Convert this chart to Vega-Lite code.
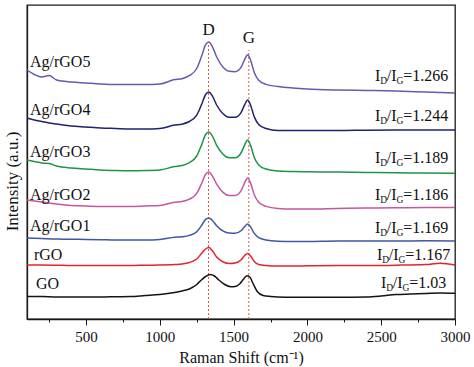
{
  "$schema": "https://vega.github.io/schema/vega-lite/v6.json",
  "width": 428,
  "height": 314,
  "autosize": {"type": "none"},
  "padding": {"left": 27, "top": 5, "right": 19, "bottom": 48},
  "background": "white",
  "config": {
    "font": "Liberation Serif",
    "view": {"stroke": "#1a1a1a", "strokeWidth": 1.3},
    "text": {"font": "Liberation Serif", "color": "#111111"}
  },
  "datasets": {
    "spectra": [
      {"s":"Ag/rGO5","x":100,"y":249},{"s":"Ag/rGO5","x":150,"y":244.5},{"s":"Ag/rGO5","x":200,"y":242},{"s":"Ag/rGO5","x":250,"y":243.5},{"s":"Ag/rGO5","x":300,"y":239},{"s":"Ag/rGO5","x":400,"y":237},{"s":"Ag/rGO5","x":500,"y":236},{"s":"Ag/rGO5","x":600,"y":235},{"s":"Ag/rGO5","x":700,"y":234.5},{"s":"Ag/rGO5","x":800,"y":234.5},{"s":"Ag/rGO5","x":900,"y":234.5},{"s":"Ag/rGO5","x":1000,"y":235},{"s":"Ag/rGO5","x":1100,"y":239.4},{"s":"Ag/rGO5","x":1150,"y":240.3},{"s":"Ag/rGO5","x":1200,"y":243.3},{"s":"Ag/rGO5","x":1250,"y":250.5},{"s":"Ag/rGO5","x":1285,"y":263.7},{"s":"Ag/rGO5","x":1310,"y":274.3},{"s":"Ag/rGO5","x":1332,"y":277},{"s":"Ag/rGO5","x":1355,"y":272.7},{"s":"Ag/rGO5","x":1385,"y":262},{"s":"Ag/rGO5","x":1430,"y":251.6},{"s":"Ag/rGO5","x":1470,"y":247.7},{"s":"Ag/rGO5","x":1510,"y":247.3},{"s":"Ag/rGO5","x":1550,"y":251.6},{"s":"Ag/rGO5","x":1575,"y":259.7},{"s":"Ag/rGO5","x":1595,"y":264.2},{"s":"Ag/rGO5","x":1615,"y":258.8},{"s":"Ag/rGO5","x":1640,"y":246.6},{"s":"Ag/rGO5","x":1670,"y":238.8},{"s":"Ag/rGO5","x":1720,"y":234.6},{"s":"Ag/rGO5","x":1800,"y":232.5},{"s":"Ag/rGO5","x":1900,"y":231},{"s":"Ag/rGO5","x":2000,"y":230},{"s":"Ag/rGO5","x":2200,"y":229},{"s":"Ag/rGO5","x":2400,"y":228.5},{"s":"Ag/rGO5","x":2600,"y":228},{"s":"Ag/rGO5","x":2800,"y":227},{"s":"Ag/rGO5","x":3000,"y":226},

      {"s":"Ag/rGO4","x":100,"y":201},{"s":"Ag/rGO4","x":150,"y":199},{"s":"Ag/rGO4","x":200,"y":197.5},{"s":"Ag/rGO4","x":250,"y":196},{"s":"Ag/rGO4","x":300,"y":195},{"s":"Ag/rGO4","x":400,"y":193},{"s":"Ag/rGO4","x":500,"y":192},{"s":"Ag/rGO4","x":600,"y":191},{"s":"Ag/rGO4","x":700,"y":190.5},{"s":"Ag/rGO4","x":800,"y":190},{"s":"Ag/rGO4","x":900,"y":190},{"s":"Ag/rGO4","x":1000,"y":190.5},{"s":"Ag/rGO4","x":1100,"y":193.9},{"s":"Ag/rGO4","x":1150,"y":194.8},{"s":"Ag/rGO4","x":1200,"y":197.5},{"s":"Ag/rGO4","x":1250,"y":203.8},{"s":"Ag/rGO4","x":1285,"y":215.3},{"s":"Ag/rGO4","x":1310,"y":224.5},{"s":"Ag/rGO4","x":1332,"y":227},{"s":"Ag/rGO4","x":1355,"y":223.3},{"s":"Ag/rGO4","x":1385,"y":214},{"s":"Ag/rGO4","x":1430,"y":205},{"s":"Ag/rGO4","x":1470,"y":201.7},{"s":"Ag/rGO4","x":1510,"y":201.7},{"s":"Ag/rGO4","x":1550,"y":206.4},{"s":"Ag/rGO4","x":1575,"y":214.3},{"s":"Ag/rGO4","x":1595,"y":219},{"s":"Ag/rGO4","x":1615,"y":213.8},{"s":"Ag/rGO4","x":1640,"y":202.1},{"s":"Ag/rGO4","x":1670,"y":194.6},{"s":"Ag/rGO4","x":1720,"y":190.5},{"s":"Ag/rGO4","x":1800,"y":188.5},{"s":"Ag/rGO4","x":1900,"y":188.5},{"s":"Ag/rGO4","x":2000,"y":188.5},{"s":"Ag/rGO4","x":2200,"y":188.5},{"s":"Ag/rGO4","x":2400,"y":188.8},{"s":"Ag/rGO4","x":2600,"y":189},{"s":"Ag/rGO4","x":2800,"y":189},{"s":"Ag/rGO4","x":3000,"y":189},

      {"s":"Ag/rGO3","x":100,"y":159},{"s":"Ag/rGO3","x":150,"y":157.5},{"s":"Ag/rGO3","x":200,"y":156},{"s":"Ag/rGO3","x":250,"y":155.5},{"s":"Ag/rGO3","x":300,"y":153},{"s":"Ag/rGO3","x":400,"y":151},{"s":"Ag/rGO3","x":500,"y":150},{"s":"Ag/rGO3","x":600,"y":149},{"s":"Ag/rGO3","x":700,"y":148.5},{"s":"Ag/rGO3","x":800,"y":148.3},{"s":"Ag/rGO3","x":900,"y":148.5},{"s":"Ag/rGO3","x":1000,"y":149},{"s":"Ag/rGO3","x":1100,"y":152.5},{"s":"Ag/rGO3","x":1150,"y":153.5},{"s":"Ag/rGO3","x":1200,"y":156.3},{"s":"Ag/rGO3","x":1250,"y":163},{"s":"Ag/rGO3","x":1285,"y":174.9},{"s":"Ag/rGO3","x":1310,"y":184.5},{"s":"Ag/rGO3","x":1332,"y":187},{"s":"Ag/rGO3","x":1355,"y":183.2},{"s":"Ag/rGO3","x":1385,"y":173.7},{"s":"Ag/rGO3","x":1430,"y":164.5},{"s":"Ag/rGO3","x":1470,"y":161.2},{"s":"Ag/rGO3","x":1510,"y":161.2},{"s":"Ag/rGO3","x":1550,"y":166},{"s":"Ag/rGO3","x":1575,"y":174.1},{"s":"Ag/rGO3","x":1595,"y":179},{"s":"Ag/rGO3","x":1615,"y":173.6},{"s":"Ag/rGO3","x":1640,"y":161.6},{"s":"Ag/rGO3","x":1670,"y":154.1},{"s":"Ag/rGO3","x":1720,"y":150},{"s":"Ag/rGO3","x":1800,"y":148},{"s":"Ag/rGO3","x":1900,"y":147.5},{"s":"Ag/rGO3","x":2000,"y":147.2},{"s":"Ag/rGO3","x":2200,"y":147},{"s":"Ag/rGO3","x":2400,"y":146.5},{"s":"Ag/rGO3","x":2600,"y":146.2},{"s":"Ag/rGO3","x":2800,"y":146},{"s":"Ag/rGO3","x":3000,"y":145.7},

      {"s":"Ag/rGO2","x":100,"y":119},{"s":"Ag/rGO2","x":200,"y":117},{"s":"Ag/rGO2","x":300,"y":115},{"s":"Ag/rGO2","x":400,"y":113.5},{"s":"Ag/rGO2","x":500,"y":113},{"s":"Ag/rGO2","x":600,"y":112.5},{"s":"Ag/rGO2","x":700,"y":112.5},{"s":"Ag/rGO2","x":800,"y":112.5},{"s":"Ag/rGO2","x":900,"y":113},{"s":"Ag/rGO2","x":1000,"y":113.5},{"s":"Ag/rGO2","x":1100,"y":116.7},{"s":"Ag/rGO2","x":1150,"y":117.4},{"s":"Ag/rGO2","x":1200,"y":119.8},{"s":"Ag/rGO2","x":1250,"y":125.6},{"s":"Ag/rGO2","x":1285,"y":136.2},{"s":"Ag/rGO2","x":1310,"y":144.7},{"s":"Ag/rGO2","x":1332,"y":147},{"s":"Ag/rGO2","x":1355,"y":143.4},{"s":"Ag/rGO2","x":1385,"y":134.9},{"s":"Ag/rGO2","x":1430,"y":126.4},{"s":"Ag/rGO2","x":1470,"y":123.5},{"s":"Ag/rGO2","x":1510,"y":123.6},{"s":"Ag/rGO2","x":1550,"y":128.2},{"s":"Ag/rGO2","x":1575,"y":136.3},{"s":"Ag/rGO2","x":1595,"y":141},{"s":"Ag/rGO2","x":1615,"y":135.9},{"s":"Ag/rGO2","x":1640,"y":124.2},{"s":"Ag/rGO2","x":1670,"y":116.7},{"s":"Ag/rGO2","x":1720,"y":112.6},{"s":"Ag/rGO2","x":1800,"y":110.5},{"s":"Ag/rGO2","x":1900,"y":110},{"s":"Ag/rGO2","x":2000,"y":110},{"s":"Ag/rGO2","x":2200,"y":110.5},{"s":"Ag/rGO2","x":2400,"y":111},{"s":"Ag/rGO2","x":2600,"y":111.2},{"s":"Ag/rGO2","x":2800,"y":111.5},{"s":"Ag/rGO2","x":3000,"y":111.5},

      {"s":"Ag/rGO1","x":100,"y":81},{"s":"Ag/rGO1","x":200,"y":80.5},{"s":"Ag/rGO1","x":300,"y":80},{"s":"Ag/rGO1","x":400,"y":79.8},{"s":"Ag/rGO1","x":500,"y":79.5},{"s":"Ag/rGO1","x":600,"y":79.3},{"s":"Ag/rGO1","x":700,"y":79},{"s":"Ag/rGO1","x":800,"y":79},{"s":"Ag/rGO1","x":900,"y":79},{"s":"Ag/rGO1","x":1000,"y":79.5},{"s":"Ag/rGO1","x":1100,"y":81.7},{"s":"Ag/rGO1","x":1150,"y":82.2},{"s":"Ag/rGO1","x":1200,"y":83.6},{"s":"Ag/rGO1","x":1250,"y":87.3},{"s":"Ag/rGO1","x":1285,"y":94},{"s":"Ag/rGO1","x":1310,"y":99.6},{"s":"Ag/rGO1","x":1332,"y":101},{"s":"Ag/rGO1","x":1355,"y":98.8},{"s":"Ag/rGO1","x":1385,"y":93.3},{"s":"Ag/rGO1","x":1430,"y":87.8},{"s":"Ag/rGO1","x":1470,"y":85.9},{"s":"Ag/rGO1","x":1510,"y":85.7},{"s":"Ag/rGO1","x":1550,"y":88.2},{"s":"Ag/rGO1","x":1575,"y":92.5},{"s":"Ag/rGO1","x":1595,"y":95},{"s":"Ag/rGO1","x":1615,"y":92.1},{"s":"Ag/rGO1","x":1640,"y":85.6},{"s":"Ag/rGO1","x":1670,"y":81.3},{"s":"Ag/rGO1","x":1720,"y":79},{"s":"Ag/rGO1","x":1800,"y":77.8},{"s":"Ag/rGO1","x":1900,"y":77.5},{"s":"Ag/rGO1","x":2000,"y":77.5},{"s":"Ag/rGO1","x":2200,"y":78},{"s":"Ag/rGO1","x":2400,"y":78},{"s":"Ag/rGO1","x":2600,"y":78},{"s":"Ag/rGO1","x":2800,"y":78.2},{"s":"Ag/rGO1","x":3000,"y":78},

      {"s":"rGO","x":100,"y":54},{"s":"rGO","x":200,"y":54},{"s":"rGO","x":300,"y":53.8},{"s":"rGO","x":400,"y":53.5},{"s":"rGO","x":500,"y":53.5},{"s":"rGO","x":600,"y":53.5},{"s":"rGO","x":700,"y":53.5},{"s":"rGO","x":800,"y":53.5},{"s":"rGO","x":900,"y":53.8},{"s":"rGO","x":1000,"y":54},{"s":"rGO","x":1100,"y":54.5},{"s":"rGO","x":1150,"y":55},{"s":"rGO","x":1200,"y":56.5},{"s":"rGO","x":1250,"y":60},{"s":"rGO","x":1285,"y":66},{"s":"rGO","x":1310,"y":70},{"s":"rGO","x":1332,"y":71.5},{"s":"rGO","x":1355,"y":68.5},{"s":"rGO","x":1385,"y":62},{"s":"rGO","x":1430,"y":57},{"s":"rGO","x":1470,"y":55.5},{"s":"rGO","x":1510,"y":56},{"s":"rGO","x":1550,"y":59},{"s":"rGO","x":1575,"y":63.5},{"s":"rGO","x":1595,"y":65.5},{"s":"rGO","x":1615,"y":63},{"s":"rGO","x":1640,"y":57.5},{"s":"rGO","x":1670,"y":54.5},{"s":"rGO","x":1720,"y":53.5},{"s":"rGO","x":1800,"y":53},{"s":"rGO","x":1900,"y":53},{"s":"rGO","x":2000,"y":53.2},{"s":"rGO","x":2200,"y":53.5},{"s":"rGO","x":2400,"y":53.5},{"s":"rGO","x":2600,"y":53.8},{"s":"rGO","x":2800,"y":54.5},{"s":"rGO","x":2900,"y":55.7},{"s":"rGO","x":3000,"y":54},

      {"s":"GO","x":100,"y":22.5},{"s":"GO","x":200,"y":22.5},{"s":"GO","x":300,"y":22},{"s":"GO","x":400,"y":22},{"s":"GO","x":500,"y":22},{"s":"GO","x":600,"y":22},{"s":"GO","x":700,"y":22.3},{"s":"GO","x":800,"y":22.5},{"s":"GO","x":900,"y":23.5},{"s":"GO","x":1000,"y":24.5},{"s":"GO","x":1100,"y":26.5},{"s":"GO","x":1150,"y":28},{"s":"GO","x":1200,"y":30},{"s":"GO","x":1250,"y":34.5},{"s":"GO","x":1285,"y":39.5},{"s":"GO","x":1310,"y":42.5},{"s":"GO","x":1340,"y":44.5},{"s":"GO","x":1370,"y":43},{"s":"GO","x":1400,"y":39},{"s":"GO","x":1440,"y":34.5},{"s":"GO","x":1480,"y":32.3},{"s":"GO","x":1510,"y":32.5},{"s":"GO","x":1540,"y":35},{"s":"GO","x":1565,"y":39.5},{"s":"GO","x":1590,"y":43.3},{"s":"GO","x":1610,"y":42},{"s":"GO","x":1630,"y":36},{"s":"GO","x":1660,"y":27.5},{"s":"GO","x":1700,"y":23.5},{"s":"GO","x":1750,"y":22.5},{"s":"GO","x":1800,"y":22},{"s":"GO","x":1900,"y":21.8},{"s":"GO","x":2000,"y":21.8},{"s":"GO","x":2200,"y":21.7},{"s":"GO","x":2400,"y":22},{"s":"GO","x":2500,"y":23},{"s":"GO","x":2600,"y":24.5},{"s":"GO","x":2700,"y":25},{"s":"GO","x":2800,"y":25.5},{"s":"GO","x":2900,"y":26},{"s":"GO","x":3000,"y":25.7}
    ],
    "peaks": [
      {"x": 1330, "y": 0, "y2": 277, "t": "D", "ty": 289},
      {"x": 1603, "y": 0, "y2": 269, "t": "G", "ty": 281}
    ],
    "names": [
      {"x": 120, "y": 257, "t": "Ag/rGO5"},
      {"x": 120, "y": 209, "t": "Ag/rGO4"},
      {"x": 120, "y": 167, "t": "Ag/rGO3"},
      {"x": 120, "y": 124, "t": "Ag/rGO2"},
      {"x": 120, "y": 93, "t": "Ag/rGO1"},
      {"x": 147, "y": 64, "t": "rGO"},
      {"x": 161, "y": 35, "t": "GO"}
    ],
    "ratios": [
      {"x": 2458, "y": 243, "v": "=1.266"},
      {"x": 2458, "y": 203, "v": "=1.244"},
      {"x": 2458, "y": 161, "v": "=1.189"},
      {"x": 2458, "y": 124, "v": "=1.186"},
      {"x": 2458, "y": 91, "v": "=1.169"},
      {"x": 2471, "y": 64, "v": "=1.167"},
      {"x": 2498, "y": 36, "v": "=1.03"}
    ]
  },
  "encoding": {
    "x": {
      "field": "x", "type": "quantitative",
      "scale": {"domain": [100, 3000], "nice": false, "zero": false},
      "axis": {
        "title": "Raman Shift (cm⁻¹)",
        "values": [250, 500, 750, 1000, 1250, 1500, 1750, 2000, 2250, 2500, 2750, 3000],
        "format": "d",
        "labelExpr": "datum.value % 500 === 0 ? datum.label : ''",
        "tickSize": {"condition": {"test": "datum.value % 500 === 0", "value": 6}, "value": 3},
        "labelOverlap": false,
        "labelFlush": false,
        "grid": false,
        "labelFont": "Liberation Serif",
        "titleFont": "Liberation Serif",
        "labelFontSize": 15,
        "titleFontSize": 16,
        "titleFontWeight": "normal",
        "labelColor": "#111111",
        "titleColor": "#111111",
        "labelPadding": 4,
        "titlePadding": 5,
        "domainColor": "#1a1a1a",
        "domainWidth": 1.3,
        "tickColor": "#1a1a1a",
        "tickWidth": 1
      }
    },
    "y": {
      "field": "y", "type": "quantitative",
      "scale": {"domain": [0, 314], "nice": false, "zero": false},
      "axis": {
        "title": "Intensity (a.u.)",
        "labels": false,
        "ticks": false,
        "grid": false,
        "domainColor": "#1a1a1a",
        "domainWidth": 1.3,
        "titleFont": "Liberation Serif",
        "titleFontSize": 17,
        "titleFontWeight": "normal",
        "titleColor": "#111111",
        "titleAngle": 270,
        "titleX": -15,
        "titleY": 176,
        "titleAlign": "center",
        "titleBaseline": "middle"
      }
    }
  },
  "layer": [
    {
      "data": {"name": "peaks"},
      "mark": {"type": "rule", "color": "#e0574f", "strokeDash": [2, 2], "strokeWidth": 1},
      "encoding": {"y2": {"field": "y2"}}
    },
    {
      "data": {"name": "spectra"},
      "mark": {"type": "line", "strokeWidth": 1.5, "interpolate": "monotone"},
      "encoding": {
        "color": {
          "field": "s", "type": "nominal", "legend": null,
          "scale": {
            "domain": ["GO", "rGO", "Ag/rGO1", "Ag/rGO2", "Ag/rGO3", "Ag/rGO4", "Ag/rGO5"],
            "range": ["#141414", "#e4242c", "#3f57a6", "#c4579f", "#1f9446", "#1f2270", "#6758b0"]
          }
        }
      }
    },
    {
      "data": {"name": "peaks"},
      "mark": {"type": "text", "fontSize": 17, "align": "center", "baseline": "middle", "color": "#111111"},
      "encoding": {"y": {"field": "ty", "type": "quantitative"}, "text": {"field": "t"}}
    },
    {
      "data": {"name": "names"},
      "mark": {"type": "text", "fontSize": 16, "align": "left", "baseline": "middle", "color": "#111111"},
      "encoding": {"text": {"field": "t"}}
    },
    {
      "data": {"name": "ratios"},
      "mark": {"type": "text", "fontSize": 16, "align": "left", "baseline": "middle", "color": "#111111", "text": "I"}
    },
    {
      "data": {"name": "ratios"},
      "mark": {"type": "text", "fontSize": 9.5, "align": "left", "baseline": "middle", "color": "#111111", "text": "D", "dx": 5.3, "dy": 4.5}
    },
    {
      "data": {"name": "ratios"},
      "mark": {"type": "text", "fontSize": 16, "align": "left", "baseline": "middle", "color": "#111111", "text": "/I", "dx": 11.8}
    },
    {
      "data": {"name": "ratios"},
      "mark": {"type": "text", "fontSize": 9.5, "align": "left", "baseline": "middle", "color": "#111111", "text": "G", "dx": 21.5, "dy": 4.5}
    },
    {
      "data": {"name": "ratios"},
      "mark": {"type": "text", "fontSize": 16, "align": "left", "baseline": "middle", "color": "#111111", "dx": 28.3},
      "encoding": {"text": {"field": "v"}}
    }
  ]
}
